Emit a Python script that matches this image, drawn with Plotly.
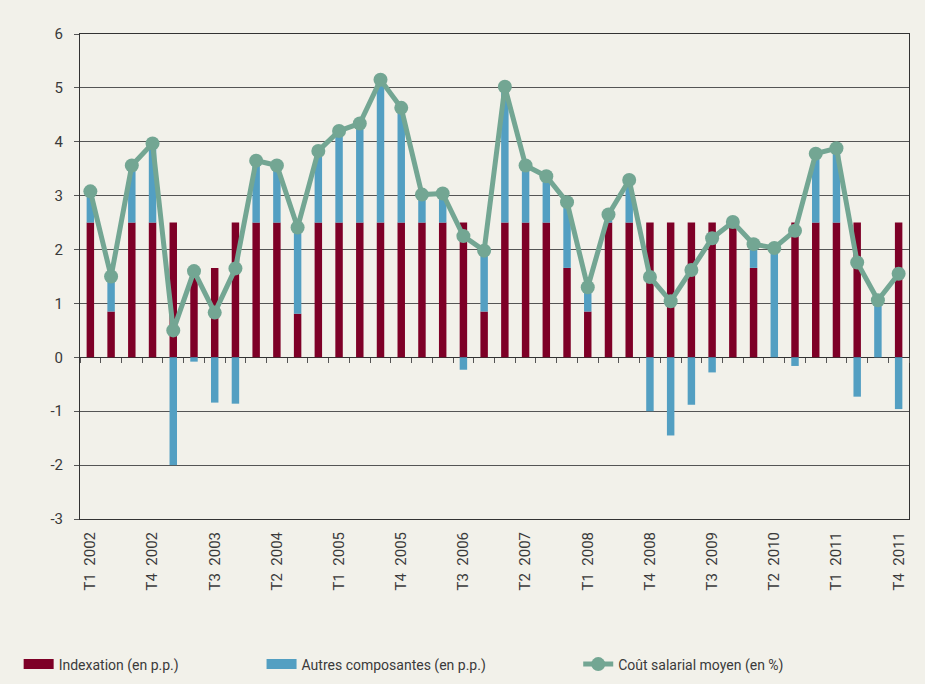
import plotly.graph_objects as go

quarters = [f"T{q} {y}" for y in range(2002, 2012) for q in range(1, 5)]

indexation = [2.5, 0.85, 2.5, 2.5, 2.5, 1.68, 1.66, 2.5, 2.5, 2.5,
              0.81, 2.5, 2.5, 2.5, 2.5, 2.5, 2.5, 2.5, 2.5, 0.85,
              2.5, 2.5, 2.5, 1.66, 0.85, 2.5, 2.5, 2.5, 2.5, 2.5,
              2.5, 2.5, 1.66, 0.0, 2.5, 2.5, 2.5, 2.5, 0.0, 2.5]

autres = [0.58, 0.65, 1.06, 1.47, -2.0, -0.08, -0.84, -0.86, 1.15, 1.06,
          1.60, 1.33, 1.70, 1.84, 2.65, 2.13, 0.52, 0.54, -0.23, 1.13,
          2.52, 1.06, 0.86, 1.22, 0.45, 0.15, 0.79, -1.0, -1.45, -0.88,
          -0.28, 0.01, 0.44, 2.03, -0.16, 1.28, 1.38, -0.73, 1.06, -0.96]

cout = [3.08, 1.50, 3.56, 3.97, 0.50, 1.60, 0.83, 1.65, 3.65, 3.56,
        2.41, 3.83, 4.20, 4.34, 5.15, 4.63, 3.02, 3.04, 2.25, 1.98,
        5.02, 3.56, 3.36, 2.88, 1.30, 2.65, 3.29, 1.49, 1.04, 1.62,
        2.21, 2.51, 2.10, 2.03, 2.35, 3.78, 3.88, 1.76, 1.06, 1.55]

y_ticks = [-3, -2, -1, 0, 1, 2, 3, 4, 5, 6]
y_tick_labels = ["-3", "-2", "-1", "0", "1", "2", "3", "4", "5", "6"]

label_every = 3
tick_idx = list(range(0, len(quarters), label_every))
tick_labels = [quarters[i].replace(" ", "\u00a0\u00a0") for i in tick_idx]

RED = "#7E0027"
BLUE = "#539FC2"
GREEN = "#73A693"
BG = "#F2F1EA"
TXT = "#3a3a3a"
FONT = "Roboto"

x = list(range(len(quarters)))

fig = go.Figure()
fig.add_trace(go.Bar(x=x, y=indexation, marker=dict(color=RED, line=dict(width=0)),
                     width=0.36, showlegend=False, name="Indexation (en p.p.)"))
fig.add_trace(go.Bar(x=x, y=autres, marker=dict(color=BLUE, line=dict(width=0)),
                     width=0.36, showlegend=False, name="Autres composantes (en p.p.)"))
fig.add_trace(go.Scatter(x=x, y=cout, mode="lines+markers",
                         line=dict(color=GREEN, width=5),
                         marker=dict(color=GREEN, size=14),
                         name="Coût salarial moyen (en %)", legend="legend3"))
# legend swatches for bars
fig.add_trace(go.Scatter(x=[None], y=[None], mode="lines", line=dict(color=RED, width=12),
                         name="Indexation (en p.p.)", legend="legend"))
fig.add_trace(go.Scatter(x=[None], y=[None], mode="lines", line=dict(color=BLUE, width=12),
                         name="Autres composantes (en p.p.)", legend="legend2"))
# axis at zero carrying category-boundary ticks
bounds = [i + 0.5 for i in range(-1, len(quarters))]
fig.add_trace(go.Scatter(x=[None], y=[None], xaxis="x2", showlegend=False))

xrange = [-0.5, len(quarters) - 0.5]
leg_common = dict(orientation="h", yanchor="middle", y=-0.30, xanchor="left",
                  bgcolor="rgba(0,0,0,0)", font=dict(family=FONT, size=14, color=TXT),
                  itemwidth=30)

fig.update_layout(
    width=925, height=684,
    paper_bgcolor=BG, plot_bgcolor=BG,
    margin=dict(l=80, r=16, t=34, b=165, autoexpand=False),
    barmode="relative", bargap=0.6,
    font=dict(family=FONT, color=TXT),
    xaxis=dict(range=xrange, tickmode="array", tickvals=tick_idx, ticktext=tick_labels,
               tickangle=-90, tickfont=dict(size=15, color=TXT), ticks="",
               ticklabelstandoff=6,
               showgrid=False, showline=True, linecolor="#333", linewidth=1, mirror=True,
               zeroline=False, automargin=False),
    xaxis2=dict(range=xrange, overlaying="x", anchor="free", position=1/3,
                tickmode="array", tickvals=bounds, ticks="outside", ticklen=5,
                tickcolor="#555", tickwidth=1, showticklabels=False, showgrid=False,
                showline=False, zeroline=False),
    yaxis=dict(range=[-3, 6], tickmode="array", tickvals=y_ticks, ticktext=y_tick_labels,
               tickfont=dict(size=15, color=TXT), ticklabelstandoff=8,
               ticks="outside", ticklen=5, tickcolor="#555",
               showgrid=True, gridcolor="#555", gridwidth=1,
               zeroline=True, zerolinecolor="#333", zerolinewidth=1,
               showline=True, linecolor="#333", linewidth=1, mirror=True, automargin=False),
    legend=dict(x=-0.074, **leg_common),
    legend2=dict(x=0.219, **leg_common),
    legend3=dict(x=0.601, **leg_common),
)

fig.write_html("out.html", config={"displayModeBar": False}, post_script=(
    "document.body.style.margin='0';"
    "document.body.style.background='#F2F1EA';"))
